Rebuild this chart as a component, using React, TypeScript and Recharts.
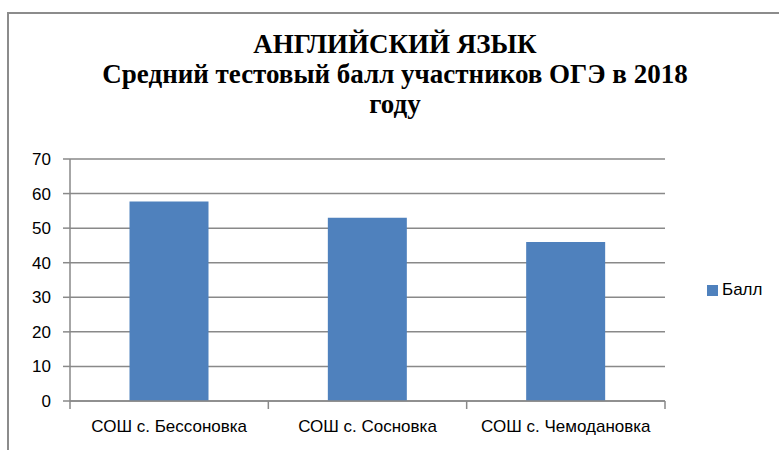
import { BarChart, Bar, XAxis, YAxis, CartesianGrid } from "recharts"

const schools = ["СОШ с. Бессоновка", "СОШ с. Сосновка", "СОШ с. Чемодановка"]
const scores = [57.7, 53.0, 46.0]
const yTicks = [0, 10, 20, 30, 40, 50, 60, 70]
const seriesName = "Балл"
const titleLines = ["АНГЛИЙСКИЙ ЯЗЫК", "Средний тестовый балл участников ОГЭ в 2018", "году"]

const BAR_COLOR = "#4f81bd"
const AXIS_COLOR = "#898989"
const LABEL_FONT = "'Liberation Sans', Arial, sans-serif"
const TITLE_FONT = "'Liberation Serif', 'Times New Roman', serif"

const PLOT_LEFT = 70
const PLOT_RIGHT = 665
const halfBand = (PLOT_RIGHT - PLOT_LEFT) / schools.length / 2

const chartData = schools.map((name, i) => ({ name, [seriesName]: scores[i] }))

// category labels centred, tick marks drawn on the band edges like Excel does
function CategoryTick(props: any) {
  const { x, y, payload, index } = props
  const last = index === schools.length - 1
  return (
    <g>
      <line x1={x - halfBand} x2={x - halfBand} y1={y - 8} y2={y} stroke={AXIS_COLOR} strokeWidth={1.5} />
      {last && <line x1={x + halfBand} x2={x + halfBand} y1={y - 8} y2={y} stroke={AXIS_COLOR} strokeWidth={1.5} />}
      <text x={x} y={y + 23} textAnchor="middle" fontSize={17} fill="#000" fontFamily={LABEL_FONT}>
        {payload.value}
      </text>
    </g>
  )
}

export default function App() {
  return (
    <div style={{ position: "fixed", left: 0, top: 0, width: 779, height: 450, overflow: "hidden", background: "#fff" }}>
      <div
        style={{
          position: "absolute",
          left: 7,
          top: 12,
          width: 820,
          height: 500,
          borderLeft: "2px solid #8c8c8c",
          borderTop: "2px solid #8c8c8c",
        }}
      />
      <svg width={779} height={140} style={{ position: "absolute", left: 0, top: 0 }}>
        {titleLines.map((t, i) => (
          <text
            key={t}
            x={395}
            y={53 + i * 30}
            textAnchor="middle"
            fontFamily={TITLE_FONT}
            fontWeight="bold"
            fontSize={27}
            fill="#000"
          >
            {t}
          </text>
        ))}
      </svg>
      <div style={{ position: "absolute", left: 0, top: 0 }}>
        <BarChart
          width={779}
          height={450}
          data={chartData}
          margin={{ top: 159, right: 779 - PLOT_RIGHT, bottom: 0, left: 20 }}
          barCategoryGap="30%"
        >
          <CartesianGrid vertical={false} stroke={AXIS_COLOR} strokeWidth={1.5} />
          <XAxis
            dataKey="name"
            axisLine={{ stroke: AXIS_COLOR, strokeWidth: 1.5 }}
            tickLine={false}
            tick={<CategoryTick />}
            height={49}
            interval={0}
          />
          <YAxis
            width={50}
            domain={[0, 70]}
            ticks={yTicks}
            axisLine={{ stroke: AXIS_COLOR, strokeWidth: 1.5 }}
            tickLine={{ stroke: AXIS_COLOR, strokeWidth: 1.5 }}
            tickSize={7}
            tickMargin={12}
            tick={{ fontSize: 17, fill: "#000", fontFamily: LABEL_FONT }}
          />
          <Bar dataKey={seriesName} fill={BAR_COLOR} isAnimationActive={false} />
        </BarChart>
      </div>
      <div
        style={{
          position: "absolute",
          left: 707,
          top: 280,
          display: "flex",
          alignItems: "center",
          fontFamily: LABEL_FONT,
          fontSize: 17,
        }}
      >
        <span style={{ display: "inline-block", width: 11, height: 11, background: BAR_COLOR, marginRight: 4 }} />
        {seriesName}
      </div>
    </div>
  )
}
